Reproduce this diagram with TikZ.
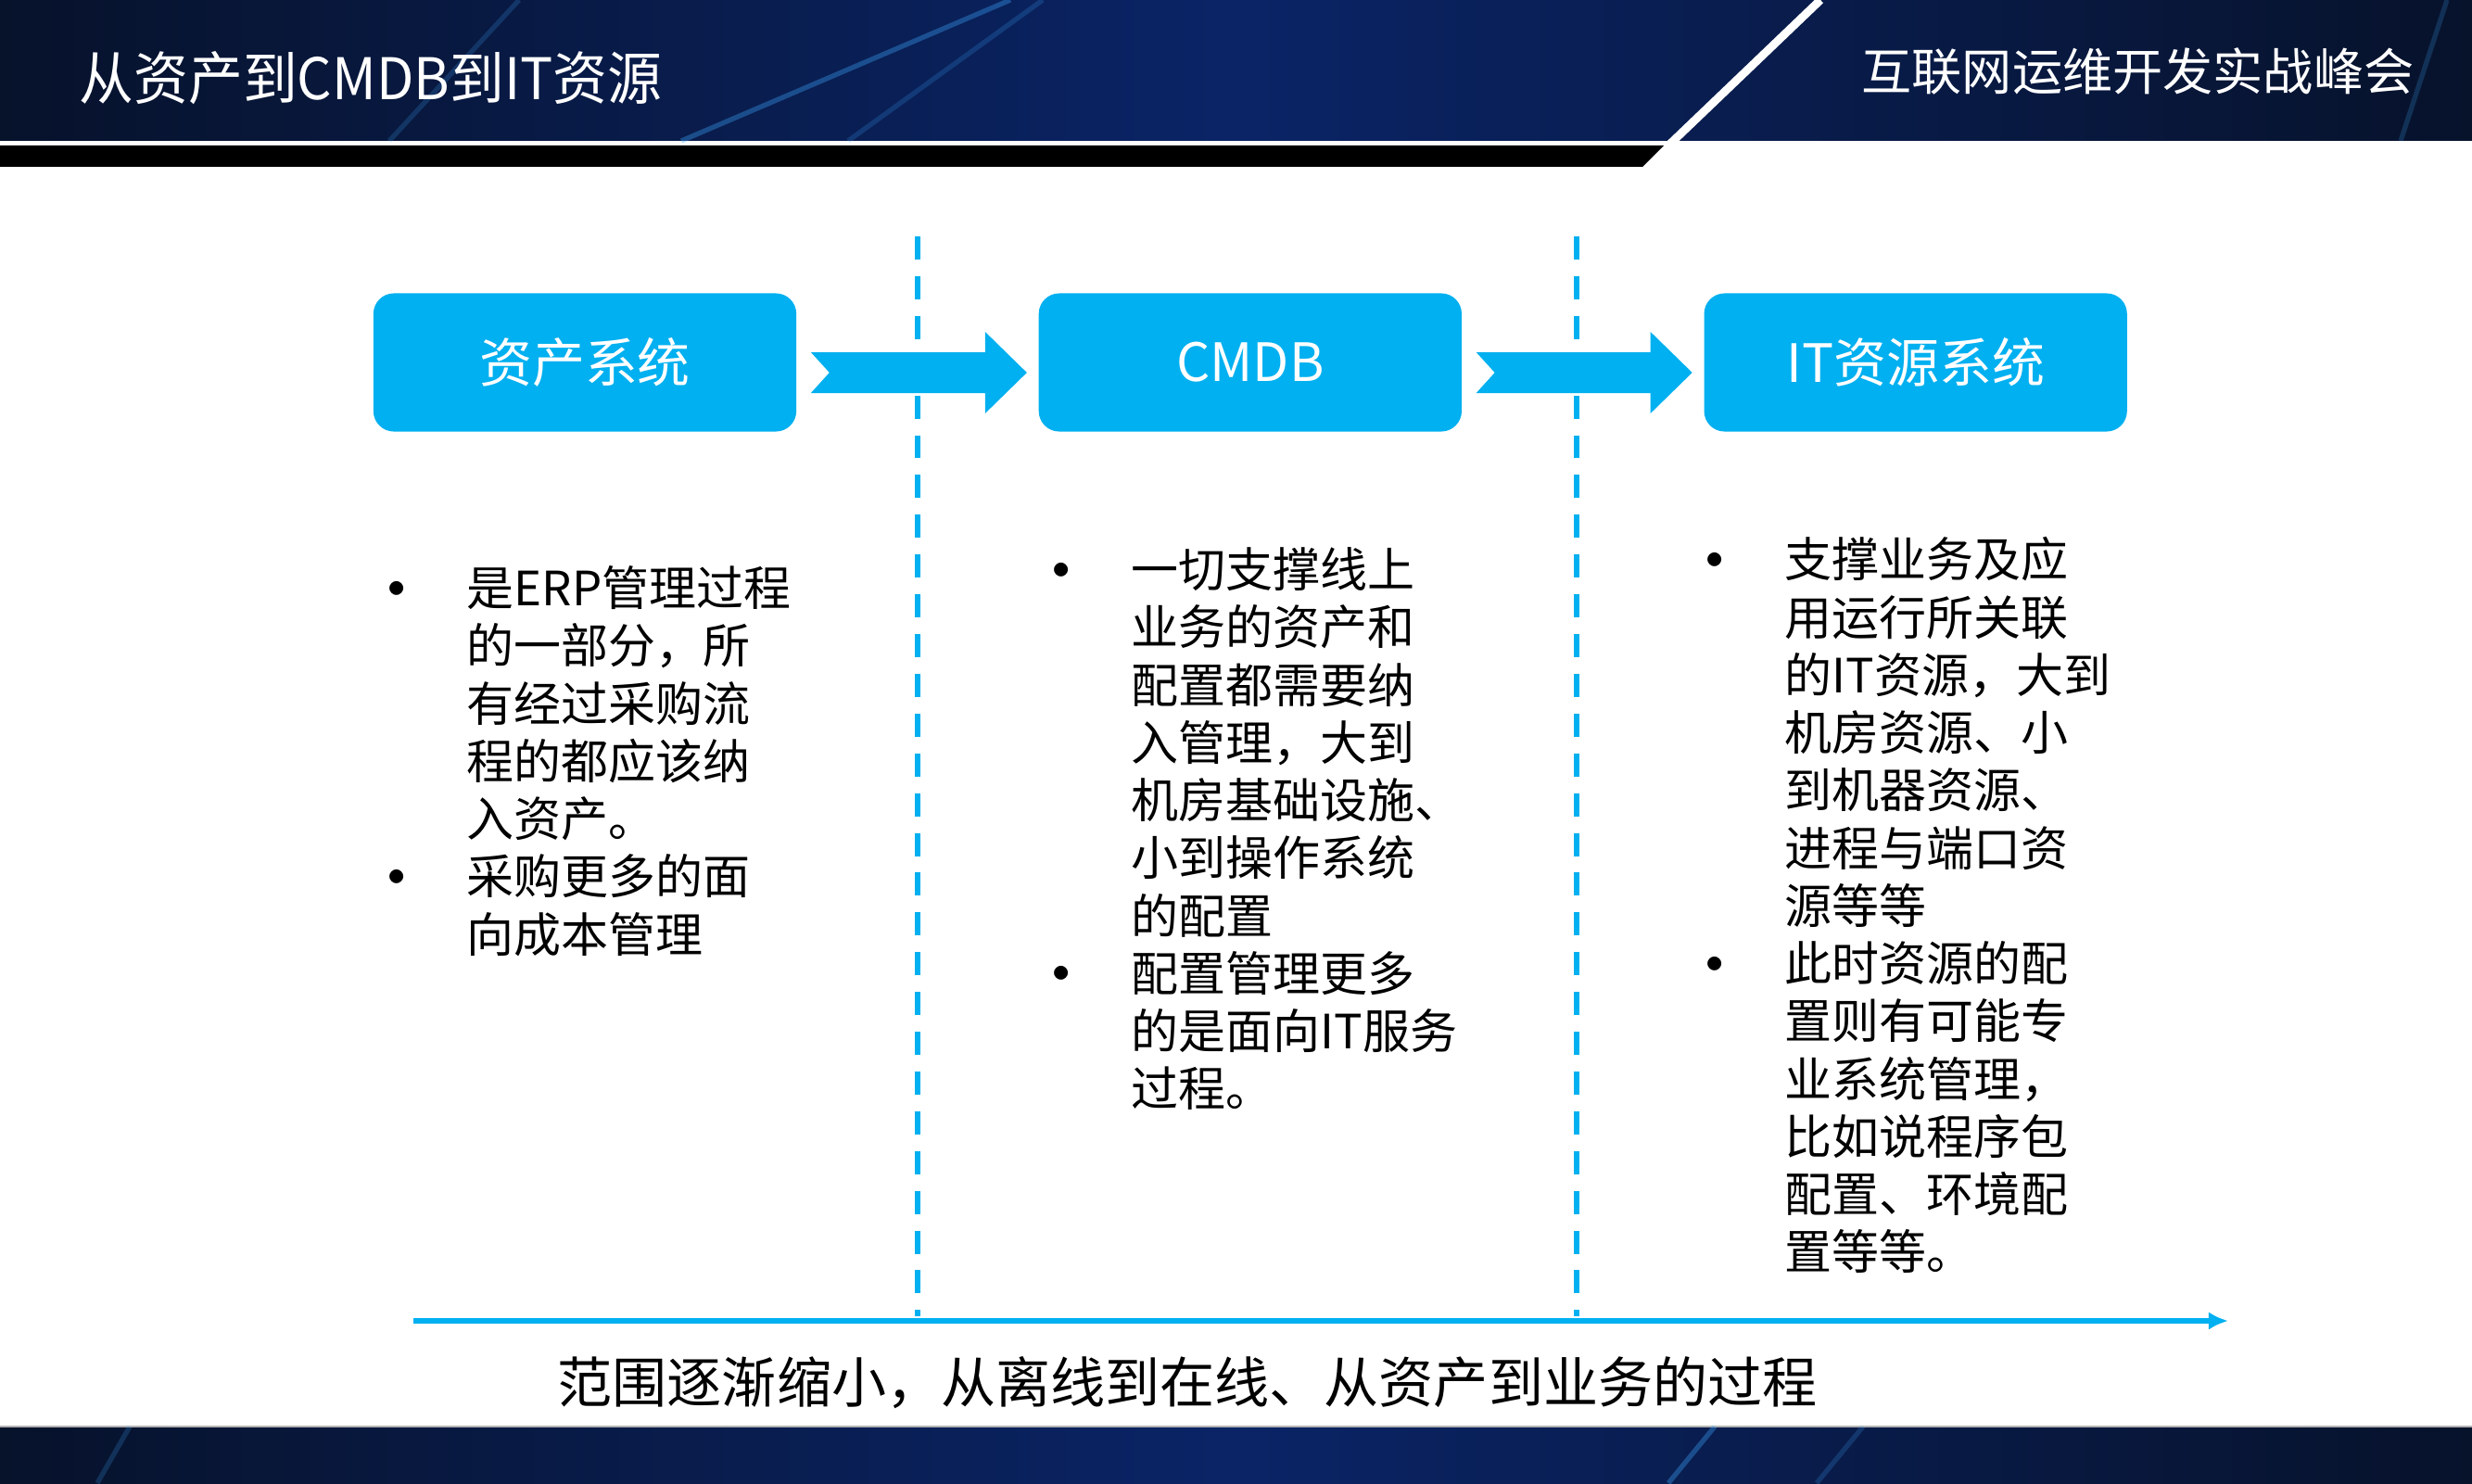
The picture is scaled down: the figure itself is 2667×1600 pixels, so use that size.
\documentclass[tikz,border=0pt]{standalone}
\usepackage{fontspec}
\setmainfont{Noto Sans CJK SC}
\usetikzlibrary{arrows.meta, positioning, calc}

\definecolor{boxblue}{HTML}{00B0F0}
\definecolor{navydark}{HTML}{07122B}
\definecolor{navymid}{HTML}{0A2466}
\definecolor{streakblue}{HTML}{3FA9FF}

% bullet hanging left of a line
\newcommand{\bul}{\llap{\makebox[0pt][c]{\raisebox{2.7pt}{\fontsize{11pt}{11pt}\selectfont$\bullet$}}\hspace{0.76cm}}}

\begin{document}
\begin{tikzpicture}[x=0.01cm, y=-0.01cm, every node/.style={inner sep=0pt}]
  % Styles
  \tikzset{
    sysbox/.style={rectangle, fill=boxblue, rounded corners=0.22cm, minimum width=4.56cm, minimum height=1.49cm, text=white, font=\fontsize{16.2pt}{19pt}\selectfont},
    notes/.style={anchor=north west, align=left, text=black, font=\fontsize{14.5pt}{17.7pt}\selectfont},
    sepline/.style={boxblue, line width=1.8pt, dash pattern=on 7.1pt off 5.1pt},
    timeline/.style={boxblue, line width=1.8pt, -{Latex[length=6pt, width=5.5pt]}},
    streak/.style={streakblue, line width=1.5pt, opacity=0.35},
    fatarrow/.pic={\fill[boxblue] (0,-22) -- (188,-22) -- (188,-44) -- (233,0) -- (188,44) -- (188,22) -- (0,22) -- (20,0) -- cycle;}
  }
  \useasboundingbox (0,0) rectangle (2667,1600);

  % Header and footer bands
  \shade[left color=navydark, right color=navydark, middle color=navymid] (0,0) rectangle (2667,152);
  \draw[streak] (735,152) -- (1090,0);
  \draw[streak, opacity=0.2] (915,152) -- (1125,0);
  \draw[streak, opacity=0.2] (420,152) -- (560,0);
  \draw[streak, opacity=0.2] (2590,152) -- (2640,0);
  \fill[black] (0,157) -- (1795,157) -- (1772,180) -- (0,180) -- cycle;
  \draw[white, line width=2.5pt] (1964,0) -- (1800,157);
  \shade[left color=navydark, right color=navydark, middle color=navymid] (0,1539) rectangle (2667,1600);
  \draw[gray!60, line width=0.8pt] (0,1539) -- (2667,1539);
  \draw[streak] (1800,1600) -- (1850,1539);
  \draw[streak, opacity=0.2] (1960,1600) -- (2010,1539);
  \draw[streak, opacity=0.2] (105,1600) -- (140,1539);

  \node[anchor=base west, text=white, font=\fontsize{17.6pt}{20pt}\selectfont, xscale=0.95] (title) at (85,108) {从资产到CMDB到IT资源};
  \node[anchor=base east, text=white, font=\fontsize{15.4pt}{18pt}\selectfont] (event) at (2605,98) {互联网运维开发实战峰会};

  % Separators
  \draw[sepline] (990,255) -- (990,1420);
  \draw[sepline] (1701,255) -- (1701,1420);

  % Nodes
  \node[sysbox] (asset) at (631,391) {资产系统};
  \node[sysbox, right=2.6cm of asset] (cmdb) {CMDB};
  \node[sysbox, right=2.6cm of cmdb] (itres) {IT资源系统};

  \node[notes] (assetnote) at (503,610) {\bul 是ERP管理过程\\的一部分，所\\有经过采购流\\程的都应该纳\\入资产。\\\bul 采购更多的面\\向成本管理};
  \node[notes] (cmdbnote) at (1220,590) {\bul 一切支撑线上\\业务的资产和\\配置都需要纳\\入管理，大到\\机房基础设施、\\小到操作系统\\的配置\\\bul 配置管理更多\\的是面向IT服务\\过程。};
  \node[notes] (itresnote) at (1925,579) {\bul 支撑业务及应\\用运行所关联\\的IT资源，大到\\机房资源、小\\到机器资源、\\进程与端口资\\源等等\\\bul 此时资源的配\\置则有可能专\\业系统管理，\\比如说程序包\\配置、环境配\\置等等。};

  % Arrows
  \pic at ($(asset.east)+(15,11)$) {fatarrow};
  \pic at ($(cmdb.east)+(15,11)$) {fatarrow};

  \coordinate (tstart) at (446,1425);
  \coordinate (tend) at (2404,1425);
  \draw[timeline] (tstart) -- (tend);
  \node[anchor=base west, font=\fontsize{16.8pt}{20pt}\selectfont] (caption) at (601,1513) {范围逐渐缩小，从离线到在线、从资产到业务的过程};
\end{tikzpicture}
\end{document}
